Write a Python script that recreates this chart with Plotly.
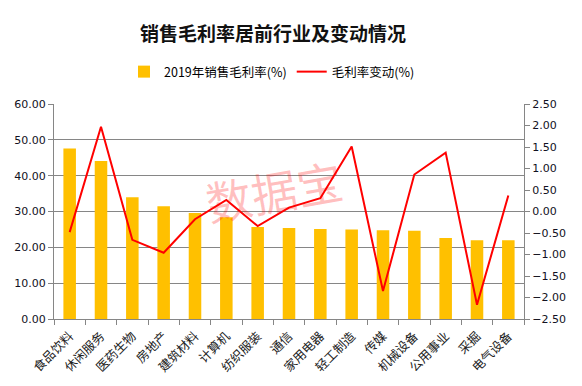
import plotly.graph_objects as go

categories = ["食品饮料", "休闲服务", "医药生物", "房地产", "建筑材料", "计算机", "纺织服装", "通信",
              "家用电器", "轻工制造", "传媒", "机械设备", "公用事业", "采掘", "电气设备"]
margin_2019 = [47.6, 44.1, 34.0, 31.5, 29.6, 28.4, 25.7, 25.4, 25.1, 25.0, 24.8, 24.6, 22.6, 22.0, 22.0]
margin_change = [-0.48, 1.97, -0.66, -0.96, -0.18, 0.27, -0.34, 0.09, 0.31, 1.51, -1.85, 0.86, 1.37, -2.17, 0.37]

left_ticks = [0, 10, 20, 30, 40, 50, 60]
right_ticks = [-2.5, -2.0, -1.5, -1.0, -0.5, 0.0, 0.5, 1.0, 1.5, 2.0, 2.5]

grey = "#868686"
tick_font = dict(family="DejaVu Sans, Verdana, sans-serif", size=11, color="#111122")

fig = go.Figure()
fig.add_trace(go.Bar(x=categories, y=margin_2019, name="2019年销售毛利率(%)",
                     marker=dict(color="#FFC000", line=dict(width=0)), width=0.4))
fig.add_trace(go.Scatter(x=categories, y=margin_change, name="毛利率变动(%)", yaxis="y2",
                         mode="lines", line=dict(color="#FF0000", width=2)))

fig.update_layout(
    width=582, height=386,
    margin=dict(l=54, r=58, t=104, b=67, autoexpand=False),
    paper_bgcolor="white", plot_bgcolor="white",
    title=dict(text="<b>销售毛利率居前行业及变动情况</b>", x=273/582, xanchor="center",
               y=1 - 34/386, yanchor="middle", xref="container", yref="container",
               font=dict(family="Noto Sans CJK SC", size=19, color="#111111")),
    legend=dict(orientation="h", x=272/582, xanchor="center", xref="container",
                y=1 - 72/386, yanchor="middle", yref="container",
                font=dict(family="Noto Sans CJK SC", size=12.5, color="#000000"),
                itemwidth=30, traceorder="normal", bgcolor="rgba(0,0,0,0)"),
    showlegend=True,
    bargap=0.6,
    xaxis=dict(type="category", tickangle=-45, tickson="boundaries", ticks="outside", ticklen=5,
               tickcolor=grey, showline=True, linecolor=grey, linewidth=1, showgrid=False,
               automargin=False, ticklabelstandoff=4,
               tickfont=dict(family="Noto Sans CJK SC", size=12.5, color="#222222")),
    yaxis=dict(range=[0, 60], tickvals=left_ticks, tickformat=".2f", showgrid=True, gridcolor=grey,
               gridwidth=1, showline=True, linecolor=grey, linewidth=1, ticks="outside", ticklen=5,
               tickcolor=grey, zeroline=False, tickfont=tick_font, automargin=False),
    yaxis2=dict(range=[-2.5, 2.5], tickvals=right_ticks, tickformat=".2f", overlaying="y", side="right",
                showgrid=False, showline=True, linecolor=grey, linewidth=1, ticks="outside", ticklen=5,
                tickcolor=grey, zeroline=False, tickfont=tick_font, automargin=False),
)

fig.add_annotation(text="数据宝", xref="paper", yref="paper", x=(274-54)/470, y=(319-190)/215,
                   showarrow=False, textangle=-10,
                   font=dict(family="Noto Sans CJK SC", size=46, color="rgba(255,0,0,0.25)"))

fig.write_html("out.html", config={"displayModeBar": False},
               post_script="document.body.style.margin='0';")
